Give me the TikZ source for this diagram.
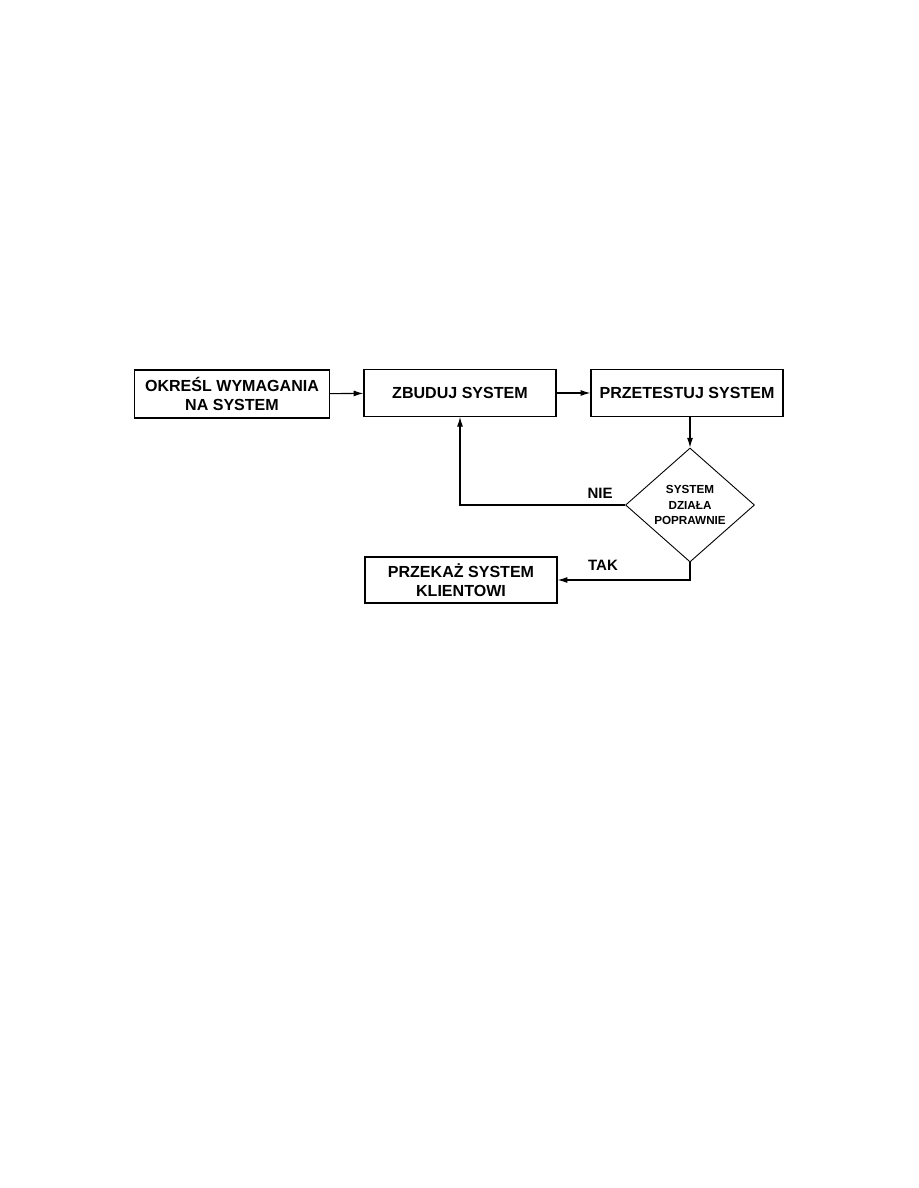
\documentclass[tikz,border=0pt]{standalone}
\usepackage{fontspec}
\setmainfont{Liberation Sans}
\usetikzlibrary{shapes.geometric, positioning, calc, arrows.meta}

\tikzset{
    stepbox/.style={draw, line width=0.9pt, minimum width=128pt, minimum height=31pt,
        align=center, inner sep=2pt, font=\fontsize{10.7}{12.3}\selectfont\bfseries},
    decision/.style={draw, diamond, line width=0.6pt, minimum width=86pt, minimum height=76pt,
        inner sep=0pt, align=center, font=\fontsize{7.8}{10.5}\selectfont\bfseries},
    answer/.style={font=\fontsize{10}{12}\selectfont\bfseries},
    flow/.style={-{Latex[length=6.5pt,width=4pt]}, line width=0.7pt}
}

\begin{document}
\begin{tikzpicture}[x=0.6667pt, y=-0.6667pt]

    \useasboundingbox (0,0) rectangle (918,1188);

    % Process steps
    \node[stepbox, minimum width=130pt, minimum height=32pt] (okresl) at (232,394) {OKREŚL WYMAGANIA\\NA SYSTEM};
    \node[stepbox] (zbuduj) at (460,393) {ZBUDUJ SYSTEM};
    \node[stepbox] (test) at (687,393) {PRZETESTUJ SYSTEM};
    \node[stepbox, minimum height=30.7pt] (przekaz) at (461,580) {PRZEKAŻ SYSTEM\\KLIENTOWI};

    % Decision
    \node[decision] (dziala) at (690,505) {SYSTEM\\DZIAŁA\\POPRAWNIE};

    % Connectors
    \draw[flow] (okresl) -- (zbuduj);
    \draw[flow] (zbuduj) -- (test);
    \draw[flow] (test.south -| dziala.north) -- (dziala.north);
    \draw[flow] (dziala.west) -| (zbuduj.south);
    \draw[flow] (dziala.south) |- (przekaz.east);

    % Answers
    \node[answer] (nie) at (600,493) {NIE};
    \node[answer] (tak) at (603,565) {TAK};
\end{tikzpicture}
\end{document}
